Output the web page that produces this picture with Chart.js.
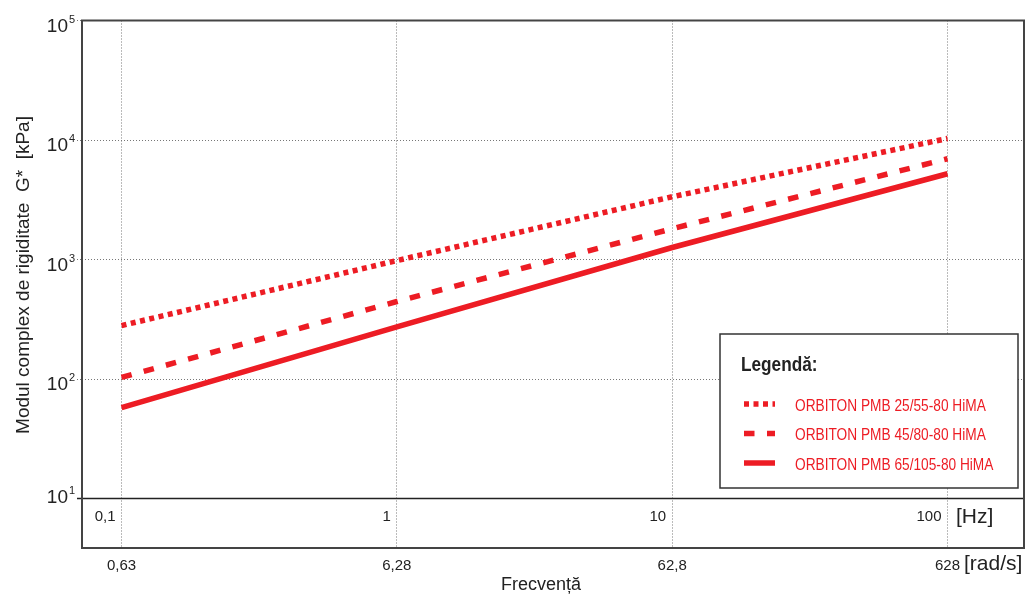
<!DOCTYPE html>
<html>
<head>
<meta charset="utf-8">
<script src="https://cdn.jsdelivr.net/npm/chart.js@4.4.1/dist/chart.umd.min.js"></script>
<style>
  html, body { margin: 0; padding: 0; background: #fff; }
</style>
</head>
<body>
<canvas id="chart" width="1027" height="594"></canvas>
<script>
// G* values [kPa] at each frequency [Hz]
const freqHz = [0.1, 1, 10, 100]
const pmb2555 = [280, 980, 3350, 10300]
const pmb4580 = [103, 445, 1810, 6970]
const pmb65105 = [57.5, 273, 1260, 5220]
const seriesNames = ['ORBITON PMB 25/55-80 HiMA', 'ORBITON PMB 45/80-80 HiMA', 'ORBITON PMB 65/105-80 HiMA']

const hzTicks = [0.1, 1, 10, 100]
const hzLabels = ['0,1', '1', '10', '100']
const radLabels = ['0,63', '6,28', '62,8', '628']
const yTicks = [10, 100, 1000, 10000, 100000]

const red = '#ED1C24'
const family = "'Liberation Sans', Arial, sans-serif"

function text(ctx, str, x, y, size, opts = {}) {
    ctx.save()
    ctx.font = (opts.bold ? 'bold ' : '') + size + 'px ' + family
    ctx.fillStyle = opts.color || '#222'
    ctx.textAlign = opts.align || 'left'
    ctx.textBaseline = 'alphabetic'
    ctx.translate(x, y)
    if (opts.rotate) ctx.rotate(opts.rotate)
    if (opts.narrow) ctx.scale(opts.narrow, 1)
    ctx.fillText(str, 0, 0)
    ctx.restore()
}

function points(values) {
    return freqHz.map((f, i) => ({x: f, y: values[i]}))
}

// frame, base line and all axis texts
const frame = {
    id: 'frame',
    afterDraw(chart) {
        const {ctx, chartArea: a, scales: {x, y}} = chart
        const y10 = y.getPixelForValue(10)
        ctx.save()
        ctx.strokeStyle = '#222'
        ctx.lineWidth = 1.6
        ctx.beginPath()
        ctx.moveTo(a.left - 5, y10)
        ctx.lineTo(a.right, y10)
        ctx.stroke()
        ctx.strokeStyle = '#444'
        ctx.lineWidth = 2
        ctx.strokeRect(a.left, a.top, a.right - a.left, a.bottom - a.top)
        ctx.restore()

        yTicks.forEach(v => {
            const py = y.getPixelForValue(v)
            const dy = v === 10 ? 4 : 11
            text(ctx, '10', 68, py + dy, 19, {align: 'right'})
            text(ctx, String(Math.round(Math.log10(v))), 69, py + dy - 9, 11)
        })

        hzTicks.forEach((v, i) => {
            const px = x.getPixelForValue(v)
            text(ctx, hzLabels[i], px - 6, 521, 15, {align: 'right'})
            text(ctx, radLabels[i], px, 570, 15, {align: 'center'})
        })
        text(ctx, '[Hz]', 956, 523, 21)
        text(ctx, '[rad/s]', 964, 570, 21)
        text(ctx, 'Frecvență', 541, 590, 18, {align: 'center'})
        text(ctx, 'Modul complex de rigiditate  G*  [kPa]', 29, 275, 19, {align: 'center', rotate: -Math.PI / 2})
    }
}

const legendBox = {
    id: 'legendBox',
    afterDraw(chart) {
        const ctx = chart.ctx
        ctx.save()
        ctx.fillStyle = '#fff'
        ctx.strokeStyle = '#333'
        ctx.lineWidth = 1.5
        ctx.fillRect(720, 334, 298, 154)
        ctx.strokeRect(720, 334, 298, 154)
        ctx.restore()
        text(ctx, 'Legendă:', 741, 371, 20, {bold: true, narrow: 0.86})
        chart.data.datasets.forEach((ds, i) => {
            const cy = 404 + i * 29.5
            ctx.save()
            ctx.strokeStyle = ds.borderColor
            ctx.lineWidth = ds.borderWidth
            ctx.setLineDash(ds.borderDash || [])
            ctx.beginPath()
            ctx.moveTo(744, cy)
            ctx.lineTo(775, cy)
            ctx.stroke()
            ctx.restore()
            text(ctx, ds.label, 795, cy + 6.5, 16.5, {color: red, narrow: 0.83})
        })
    }
}

const ctx = document.getElementById('chart').getContext('2d')
const myChart = new Chart(ctx, {
    type: 'line',
    data: {
        datasets: [{
            label: seriesNames[0],
            data: points(pmb2555),
            borderColor: red,
            borderWidth: 5.5,
            borderDash: [5, 4.5]
        }, {
            label: seriesNames[1],
            data: points(pmb4580),
            borderColor: red,
            borderWidth: 5.5,
            borderDash: [10.5, 12.5]
        }, {
            label: seriesNames[2],
            data: points(pmb65105),
            borderColor: red,
            borderWidth: 5.5
        }]
    },
    options: {
        responsive: false,
        devicePixelRatio: 1,
        animation: false,
        elements: {
            point: {radius: 0, hoverRadius: 0},
            line: {tension: 0, borderCapStyle: 'butt'}
        },
        layout: {padding: {left: 77, top: 20.5, right: 3, bottom: 46}},
        plugins: {
            legend: {display: false},
            tooltip: {enabled: false}
        },
        scales: {
            x: {
                type: 'logarithmic',
                min: 0.07185,
                max: 189.6,
                afterBuildTicks: scale => { scale.ticks = hzTicks.map(v => ({value: v})) },
                ticks: {display: false},
                grid: {color: '#777', lineWidth: 1, drawTicks: false},
                border: {display: false, dash: [1, 2]}
            },
            y: {
                type: 'logarithmic',
                min: 3.853,
                max: 100000,
                afterBuildTicks: scale => { scale.ticks = yTicks.map(v => ({value: v})) },
                ticks: {display: false},
                grid: {color: '#777', lineWidth: 1, drawTicks: true, tickLength: 5, tickBorderDash: [1, 2]},
                border: {display: false, dash: [1, 2]}
            }
        }
    },
    plugins: [frame, legendBox]
})
</script>
</body>
</html>
